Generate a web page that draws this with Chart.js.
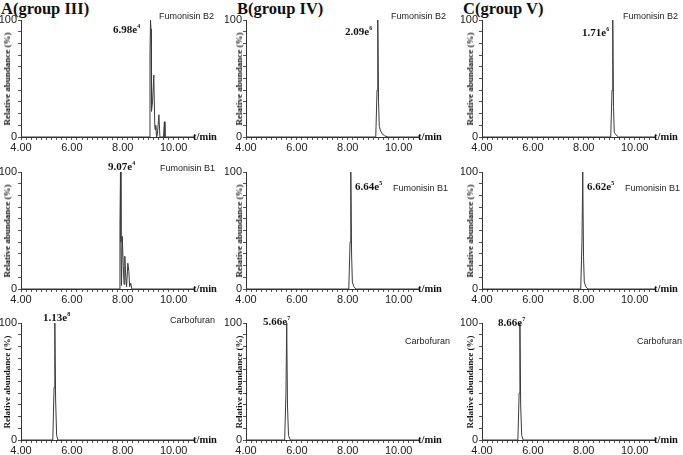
<!DOCTYPE html>
<html>
<head>
<meta charset="utf-8">
<script src="https://cdn.jsdelivr.net/npm/chart.js@4.4.1/dist/chart.umd.min.js"></script>
<style>
  body { margin: 0; background: #fff; }
  #page { position: relative; width: 683px; height: 455px; overflow: hidden; background: #fff; }
  canvas { position: absolute; }
  .t { position: absolute; white-space: nowrap; color: #111; line-height: 1; }
  .title { font: bold 16.5px "Liberation Serif", "Times New Roman", serif; }
  .peak { font: bold 11px "Liberation Serif", "Times New Roman", serif; }
  .peak sup { font-size: 6px; vertical-align: 5px; }
  .name { font: 9px "Liberation Sans", Arial, sans-serif; color: #222; }
  .unit { font: bold 10.5px "Liberation Serif", "Times New Roman", serif; }
  .ylab { font: bold 9px "Liberation Serif", "Times New Roman", serif; transform: translate(-50%, -50%) rotate(-90deg); }
</style>
</head>
<body>
<div id="page"></div>
<script>
// retention time (min) / relative abundance (%)
const fb2A_t = [4.00, 9.04, 9.07, 9.09, 9.11, 9.13, 9.17, 9.22, 9.26, 9.28, 9.30, 9.33, 9.36, 9.42, 9.46, 9.60, 9.635, 9.66, 10.80];
const fb2A_y = [0, 0, 70, 100, 92, 22, 30, 53, 8, 6, 10, 0, 2, 19, 0, 0, 13, 0, 0];
const fb1A_t = [4.00, 7.86, 7.89, 7.91, 7.93, 7.95, 7.98, 8.02, 8.05, 8.08, 8.12, 8.15, 8.20, 8.24, 8.27, 8.31, 8.36, 10.80];
const fb1A_y = [0, 0, 55, 100, 40, 3, 45, 20, 4, 28, 10, 2, 22, 15, 2, 5, 0, 0];
const carA_t = [4.00, 5.25, 5.30, 5.33, 5.36, 5.40, 5.45, 10.80];
const carA_y = [0, 0, 45, 100, 35, 4, 0, 0];

const fb2B_t = [4.00, 9.10, 9.15, 9.18, 9.21, 9.24, 9.28, 9.34, 9.45, 9.58, 10.80];
const fb2B_y = [0, 0, 40, 100, 30, 9, 6, 3, 1, 0, 0];
const fb1B_t = [4.00, 8.04, 8.09, 8.12, 8.15, 8.18, 8.24, 8.32, 10.80];
const fb1B_y = [0, 0, 40, 100, 30, 6, 2, 0, 0];
const carB_t = [4.00, 5.52, 5.57, 5.60, 5.63, 5.67, 5.74, 10.80];
const carB_y = [0, 0, 40, 100, 30, 4, 0, 0];

const fb2C_t = [4.00, 9.06, 9.11, 9.14, 9.17, 9.20, 9.26, 9.36, 10.80];
const fb2C_y = [0, 0, 40, 100, 25, 4, 2, 0, 0];
const fb1C_t = [4.00, 7.88, 7.93, 7.96, 7.99, 8.02, 8.08, 8.16, 10.80];
const fb1C_y = [0, 0, 40, 100, 28, 6, 2, 0, 0];
const carC_t = [4.00, 5.41, 5.46, 5.49, 5.52, 5.56, 5.62, 10.80];
const carC_y = [0, 0, 40, 100, 30, 4, 0, 0];

const xMajor = [4, 6, 8, 10];
const xTickLabels = ['4.00', '6.00', '8.00', '10.00'];
const yTickLabels = ['0', '100'];
const groupTitles = ['A(group III)', 'B(group IV)', 'C(group V)'];
const peakLabels = [
  [['6.98e', '4'], ['9.07e', '4'], ['1.13e', '8']],
  [['2.09e', '6'], ['6.64e', '5'], ['5.66e', '7']],
  [['1.71e', '6'], ['6.62e', '5'], ['8.66e', '7']]
];
const compounds = ['Fumonisin B2', 'Fumonisin B1', 'Carbofuran'];

const series = [
  [[fb2A_t, fb2A_y], [fb1A_t, fb1A_y], [carA_t, carA_y]],
  [[fb2B_t, fb2B_y], [fb1B_t, fb1B_y], [carB_t, carB_y]],
  [[fb2C_t, fb2C_y], [fb1C_t, fb1C_y], [carC_t, carC_y]]
];

// layout (pixels)
const axisX = [21, 246, 482];
const rowTop = [20, 172, 323];
const plotW = 173, plotH = 117, yAxisW = 21, padTop = 8, xAxisH = 18, padRight = 4;
const peakPos = [
  [[113, 29], [108, 166], [43, 317]],
  [[345, 31], [355, 186], [263, 321]],
  [[582, 32], [587, 186], [498, 322]]
];
const namePos = [
  [[159, 16], [160, 168], [170, 320]],
  [[391, 16], [393, 188], [405, 341]],
  [[623, 16], [625, 188], [637, 341]]
];
const titlePos = [[1, -1], [237, -1], [463, -1]];
const yTitleX = [7, 239, 470];

const page = document.getElementById('page');
function addText(cls, html, left, top) {
  const d = document.createElement('div');
  d.className = 't ' + cls;
  d.innerHTML = html;
  d.style.left = left + 'px';
  d.style.top = top + 'px';
  page.appendChild(d);
  return d;
}

const tickFont = { family: '"Liberation Sans", Arial, sans-serif', size: 11 };

for (let c = 0; c < 3; c++) {
  addText('title', groupTitles[c], titlePos[c][0], titlePos[c][1]);
  for (let r = 0; r < 3; r++) {
    const cv = document.createElement('canvas');
    const w = yAxisW + plotW + padRight, h = padTop + plotH + xAxisH;
    cv.width = w; cv.height = h;
    cv.style.left = (axisX[c] - yAxisW) + 'px';
    cv.style.top = (rowTop[r] - padTop) + 'px';
    page.appendChild(cv);

    const [ts, ys] = series[c][r];
    new Chart(cv.getContext('2d'), {
      type: 'scatter',
      data: {
        datasets: [{
          data: ts.map((t, i) => ({ x: t, y: ys[i] })),
          showLine: true,
          borderColor: '#3a3a3a',
          borderWidth: 1,
          pointRadius: 0,
          tension: 0
        }]
      },
      options: {
        responsive: false,
        animation: false,
        devicePixelRatio: 1,
        layout: { padding: { top: padTop, right: padRight, left: 0, bottom: 0 } },
        plugins: { legend: { display: false }, tooltip: { enabled: false } },
        scales: {
          x: {
            type: 'linear', min: 4, max: 10.8,
            afterFit: s => { s.height = xAxisH; },
            afterBuildTicks: s => {
              const tk = [];
              for (let i = 0; i <= 34; i++) tk.push({ value: +(4 + i * 0.2).toFixed(1) });
              s.ticks = tk;
            },
            ticks: {
              autoSkip: false, maxRotation: 0, padding: 1, color: '#222', font: tickFont,
              callback: v => {
                const k = xMajor.findIndex(m => Math.abs(m - v) < 1e-6);
                return k >= 0 ? xTickLabels[k] : '';
              }
            },
            grid: { drawOnChartArea: false, tickLength: 3, color: '#555' },
            border: { display: true, color: '#333', width: 1 }
          },
          y: {
            min: 0, max: 100,
            afterFit: s => { s.width = yAxisW; },
            ticks: {
              stepSize: 10, autoSkip: false, padding: 1, color: '#222', font: tickFont,
              callback: v => (v === 0 ? yTickLabels[0] : v === 100 ? yTickLabels[1] : '')
            },
            grid: { drawOnChartArea: false, tickLength: 3, color: '#555' },
            border: { display: true, color: '#333', width: 1 }
          }
        }
      }
    });

    const pl = peakLabels[c][r];
    addText('peak', pl[0] + '<sup>' + pl[1] + '</sup>', peakPos[c][r][0], peakPos[c][r][1] - 6);
    addText('name', compounds[r], namePos[c][r][0], namePos[c][r][1] - 5);
    addText('unit', 't/min', axisX[c] + plotW - 1, rowTop[r] + plotH - 6);
    addText('ylab', 'Relative abundance (%)', yTitleX[c], rowTop[r] + 59);
  }
}
</script>
</body>
</html>
